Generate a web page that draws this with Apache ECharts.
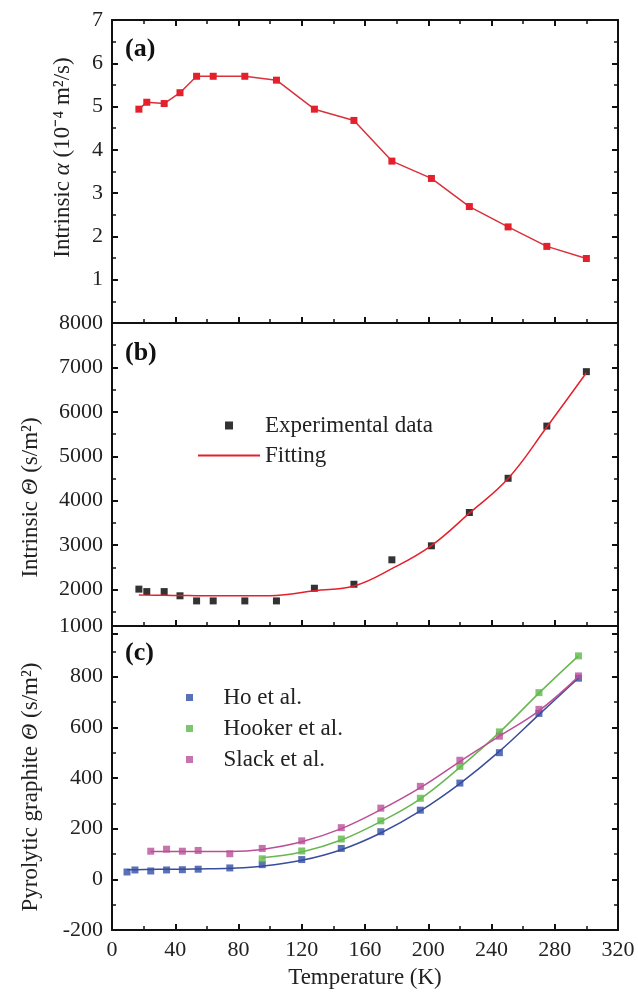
<!DOCTYPE html>
<html>
<head>
<meta charset="utf-8">
<script src="https://cdn.jsdelivr.net/npm/echarts@6/dist/echarts.min.js"></script>
<style>
html, body { margin: 0; padding: 0; background: #fff; }
#chart { width: 638px; height: 992px; }
</style>
</head>
<body>
<div id="chart"></div>
<script>
// panel (a) and (b) temperatures (K)
var tempAB = [17, 22, 33, 43, 53.5, 64, 84, 104, 128, 153, 177, 202, 226, 250.5, 275, 300]
var alphaA = [4.94, 5.10, 5.07, 5.32, 5.70, 5.70, 5.70, 5.61, 4.94, 4.68, 3.74, 3.34, 2.69, 2.22, 1.77, 1.49]
var thetaB = [2010, 1955, 1955, 1860, 1745, 1745, 1745, 1745, 2030, 2120, 2670, 2985, 3735, 4505, 5680, 6905]
var fitB = [1880, 1875, 1870, 1866, 1862, 1860, 1860, 1868, 1975, 2080, 2470, 2990, 3720, 4500, 5660, 6880]

// panel (c)
var tempHo = [9.5, 14.5, 24.5, 34.5, 44.5, 54.5, 74.5, 95, 120, 145, 170, 195, 220, 245, 270, 295]
var ho = [29, 37, 33, 37, 38, 40, 45, 58, 78, 122, 188, 273, 380, 500, 655, 794]
var hoFit = [38, 38, 39, 40, 40, 41, 44, 52, 75, 117, 183, 270, 378, 505, 650, 795]
var tempHooker = [95, 120, 145, 170, 195, 220, 245, 270, 295]
var hooker = [81, 112, 159, 231, 320, 446, 582, 737, 882]
var hookerFit = [85, 108, 155, 228, 318, 442, 580, 735, 882]
var tempSlack = [24.5, 34.5, 44.5, 54.5, 74.5, 95, 120, 145, 170, 195, 220, 245, 270, 295]
var slack = [111, 119, 111, 114, 101, 122, 152, 204, 281, 367, 470, 565, 671, 803]
var slackFit = [110, 110, 110, 110, 110, 118, 148, 200, 275, 362, 465, 565, 665, 800]

var xTicks = [0, 40, 80, 120, 160, 200, 240, 280, 320]

function pairs(xs, ys) {
    return xs.map(function(x, i) { return [x, ys[i]] })
}

var font = "'Liberation Serif', 'Times New Roman', serif"
var axisColor = '#111'

function xAxis(grid, opts) {
    return Object.assign({
        type: 'value', gridIndex: grid, min: xTicks[0], max: xTicks[xTicks.length - 1], interval: 40,
        axisLine: { show: true, onZero: false, lineStyle: { color: axisColor, width: 2 } },
        axisTick: { show: true, inside: true, length: 6, lineStyle: { color: axisColor, width: 2 } },
        minorTick: { show: true, splitNumber: 2, length: 4, lineStyle: { color: axisColor, width: 1.5 } },
        splitLine: { show: false },
        axisLabel: { show: false }
    }, opts)
}

function yAxis(grid, min, max, interval, opts) {
    return Object.assign({
        type: 'value', gridIndex: grid, min: min, max: max, interval: interval,
        axisLine: { show: true, onZero: false, lineStyle: { color: axisColor, width: 2 } },
        axisTick: { show: true, inside: true, length: 6, lineStyle: { color: axisColor, width: 2 } },
        minorTick: { show: true, splitNumber: 2, length: 4, lineStyle: { color: axisColor, width: 1.5 } },
        splitLine: { show: false },
        axisLabel: { show: false }
    }, opts)
}

function plain(v) {
    return String(v)
}

var labelStyle = { show: true, fontFamily: font, fontSize: 22, color: '#222', margin: 9, formatter: plain }

function nameStyle(padding) {
    return {
        fontFamily: font, fontSize: 23, color: '#222', padding: padding,
        rich: {
            n: { fontFamily: font, fontSize: 23, color: '#222' },
            i: { fontFamily: font, fontSize: 23, color: '#222', fontStyle: 'italic' }
        }
    }
}

var panelTitle = { fontFamily: font, fontSize: 26, fontWeight: 'bold', color: '#111' }

var option = {
    backgroundColor: '#fff',
    animation: false,
    title: [
        { text: '(a)', left: 120, top: 31, textStyle: panelTitle },
        { text: '(b)', left: 120, top: 335, textStyle: panelTitle },
        { text: '(c)', left: 120, top: 635, textStyle: panelTitle }
    ],
    legend: [
        {
            orient: 'vertical', left: 193, top: 409, itemWidth: 62, itemHeight: 8, itemGap: 7,
            textStyle: { fontFamily: font, fontSize: 23, color: '#222' },
            data: [
                { name: 'Experimental data', icon: 'path://M0,0 L8,0 L8,8 L0,8 Z' },
                { name: 'Fitting', icon: 'path://M0,0 L58,0 L58,2 L0,2 Z' }
            ]
        },
        {
            orient: 'vertical', left: 181, top: 681, itemWidth: 58, itemHeight: 7, itemGap: 8,
            textStyle: { fontFamily: font, fontSize: 23, color: '#222' },
            data: [
                { name: 'Ho et al.', icon: 'path://M0,0 L7,0 L7,7 L0,7 Z' },
                { name: 'Hooker et al.', icon: 'path://M0,0 L7,0 L7,7 L0,7 Z' },
                { name: 'Slack et al.', icon: 'path://M0,0 L7,0 L7,7 L0,7 Z' }
            ]
        }
    ],
    grid: [
        { left: 112, width: 506, top: 20, height: 303 },
        { left: 112, width: 506, top: 323, height: 311 },
        { left: 112, width: 506, top: 626, height: 304 }
    ],
    xAxis: [
        xAxis(0, { position: 'bottom' }),
        xAxis(0, { position: 'top' }),
        xAxis(1, { position: 'bottom', offset: -8 }),
        xAxis(2, {
            position: 'bottom',
            axisLabel: labelStyle,
            name: 'Temperature (K)', nameLocation: 'middle', nameGap: 36,
            nameTextStyle: nameStyle(0)
        })
    ],
    yAxis: [
        yAxis(0, 0, 7, 1, {
            position: 'left', axisLabel: Object.assign({ showMinLabel: false }, labelStyle),
            name: '{n|Intrinsic }{i|α}{n| (10⁻⁴ m²/s)}', nameLocation: 'middle', nameGap: 38,
            nameTextStyle: nameStyle([0, 0, 0, 28])
        }),
        yAxis(0, 0, 7, 1, { position: 'right' }),
        yAxis(1, 1000, 8000, 1000, {
            position: 'left', axisLabel: Object.assign({ showMinLabel: false }, labelStyle),
            name: '{n|Intrinsic }{i|Θ}{n| (s/m²)}', nameLocation: 'middle', nameGap: 70,
            nameTextStyle: nameStyle([0, 38, 0, 0])
        }),
        yAxis(1, 1000, 8000, 1000, { position: 'right' }),
        yAxis(2, -200, 1000, 200, {
            position: 'left', axisLabel: labelStyle,
            name: '{n|Pyrolytic graphite }{i|Θ}{n| (s/m²)}', nameLocation: 'middle', nameGap: 70,
            nameTextStyle: nameStyle([0, 18, 0, 0])
        }),
        yAxis(2, -200, 1000, 200, { position: 'right' })
    ],
    series: [
        {
            name: 'alpha', type: 'line', xAxisIndex: 0, yAxisIndex: 0,
            data: pairs(tempAB, alphaA),
            symbol: 'rect', symbolSize: 7,
            itemStyle: { color: '#e3202b' }, lineStyle: { color: '#d8323a', width: 1.5 }
        },
        {
            name: 'Fitting', type: 'line', xAxisIndex: 2, yAxisIndex: 2,
            data: pairs(tempAB, fitB), smooth: 0.4, showSymbol: false,
            itemStyle: { color: '#e3202b' }, lineStyle: { color: '#e3202b', width: 1.5 }
        },
        {
            name: 'Experimental data', type: 'scatter', xAxisIndex: 2, yAxisIndex: 2,
            data: pairs(tempAB, thetaB), symbol: 'rect', symbolSize: 7,
            itemStyle: { color: '#000' }
        },
        {
            name: 'Ho fit', type: 'line', xAxisIndex: 3, yAxisIndex: 4,
            data: pairs(tempHo, hoFit), smooth: 0.4, showSymbol: false,
            lineStyle: { color: '#3a4c9c', width: 1.5 }
        },
        {
            name: 'Hooker fit', type: 'line', xAxisIndex: 3, yAxisIndex: 4,
            data: pairs(tempHooker, hookerFit), smooth: 0.4, showSymbol: false,
            lineStyle: { color: '#66b84e', width: 1.5 }
        },
        {
            name: 'Slack fit', type: 'line', xAxisIndex: 3, yAxisIndex: 4,
            data: pairs(tempSlack, slackFit), smooth: 0.4, showSymbol: false,
            lineStyle: { color: '#bb4f95', width: 1.5 }
        },
        {
            name: 'Ho et al.', type: 'scatter', xAxisIndex: 3, yAxisIndex: 4,
            data: pairs(tempHo, ho), symbol: 'rect', symbolSize: 7,
            itemStyle: { color: '#2f4ea6' }
        },
        {
            name: 'Hooker et al.', type: 'scatter', xAxisIndex: 3, yAxisIndex: 4,
            data: pairs(tempHooker, hooker), symbol: 'rect', symbolSize: 7,
            itemStyle: { color: '#5cb847' }
        },
        {
            name: 'Slack et al.', type: 'scatter', xAxisIndex: 3, yAxisIndex: 4,
            data: pairs(tempSlack, slack), symbol: 'rect', symbolSize: 7,
            itemStyle: { color: '#b9509a' }
        }
    ]
}

var chart = echarts.init(document.getElementById('chart'))
chart.setOption(option)
window.addEventListener('resize', function() {
    chart.resize()
})
</script>
</body>
</html>
